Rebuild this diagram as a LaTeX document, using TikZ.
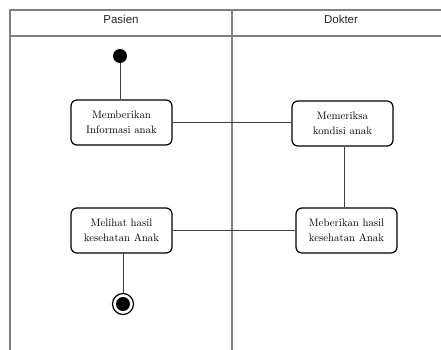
\documentclass[tikz,border=0pt]{standalone}
\usepackage{fontspec}
\setsansfont{Liberation Sans}
\usepackage{tikz}
\usetikzlibrary{positioning, calc}
\tikzset{
    lane/.style={draw=black!50, line width=1.4pt},
    activity/.style={draw, line width=1.2pt, rounded corners=6pt,
        minimum width=101pt, minimum height=45pt, align=center,
        font=\fontsize{10.8}{15}\selectfont},
    flow/.style={draw=black!75, line width=0.8pt},
    lanetitle/.style={font=\sffamily\fontsize{11.5}{13}\selectfont, text=black!85},
}

\begin{document}
\begin{tikzpicture}[x=1pt, y=-1pt]
    \useasboundingbox (0,0) rectangle (441,350);

    % swimlanes
    \draw[lane] (10,350) -- (10,10) -- (441,10);
    \draw[lane] (10,36) -- (441,36);
    \draw[lane] (232,10) -- (232,350);
    \node[lanetitle] (pasien) at (121,19) {Pasien};
    \node[lanetitle] (dokter) at (341,19) {Dokter};

    % activities
    \node[circle, fill, inner sep=0pt, minimum size=14pt] (start) at (120,56) {};
    \node[activity] (info) at (121.5,122.5) {Memberikan\\Informasi anak};
    \node[activity] (periksa) at (342.5,123.5) {Memeriksa\\kondisi anak};
    \node[activity] (hasil) at (346.5,230.5) {Meberikan hasil\\kesehatan Anak};
    \node[activity] (lihat) at (121.5,230.5) {Melihat hasil\\kesehatan Anak};
    \node[circle, draw, line width=1.2pt, inner sep=0pt, minimum size=21pt] (end) at (123,304) {};
    \fill (end) circle (7pt);

    % flows
    \draw[flow] (start) -- (start |- info.north);
    \draw[flow] (info.east) -- (info.east -| periksa.west);
    \draw[flow] ($(periksa.south)+(1.5,0)$) -- ($(periksa.south |- hasil.north)+(1.5,0)$);
    \draw[flow] (hasil.west) -- (hasil.west -| lihat.east);
    \draw[flow] ($(lihat.south)+(1.5,0)$) -- (end.north);
\end{tikzpicture}
\end{document}
